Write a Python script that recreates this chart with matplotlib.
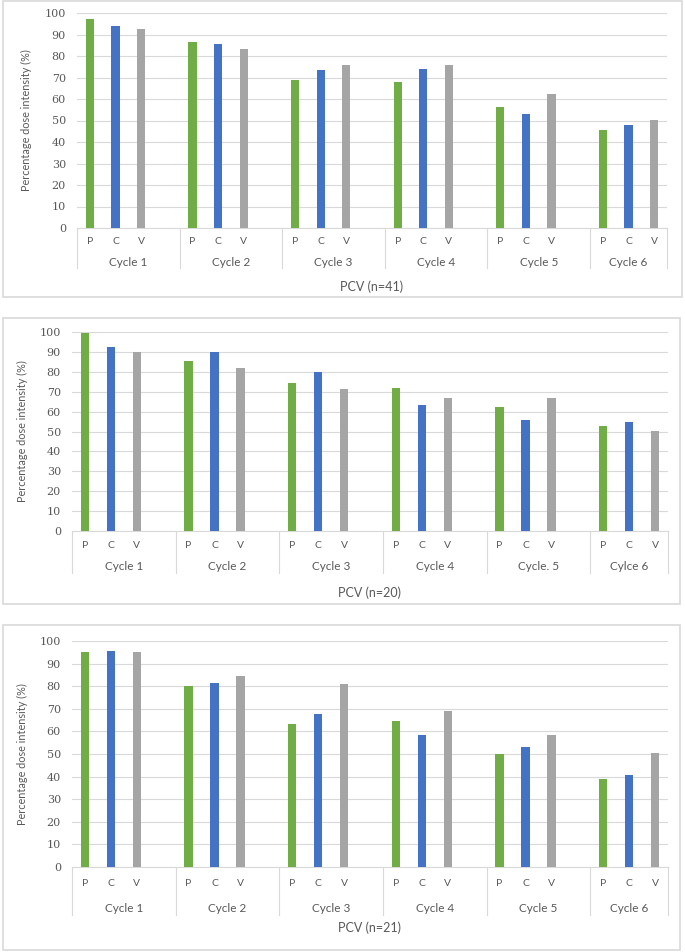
import numpy as np
import matplotlib
matplotlib.use("Agg")
import matplotlib.pyplot as plt
from matplotlib.patches import Rectangle

plt.rcParams['font.family'] = ['Lato', 'DejaVu Sans']

# data
series = ["P", "C", "V"]
colors = ["#70AD47", "#4472C4", "#A5A5A5"]

cycles_a = ["Cycle 1", "Cycle 2", "Cycle 3", "Cycle 4", "Cycle 5", "Cycle 6"]
cycles_b = ["Cycle 1", "Cycle 2", "Cycle 3", "Cycle 4", "Cycle. 5", "Cylce 6"]

p_41 = [97.2, 86.4, 68.8, 67.9, 56.1, 45.6]
c_41 = [94.1, 85.6, 73.6, 74.1, 52.9, 47.8]
v_41 = [92.7, 83.3, 76.0, 76.0, 62.3, 50.1]

p_20 = [99.3, 85.5, 74.3, 71.9, 62.5, 52.6]
c_20 = [92.3, 90.1, 80.0, 63.2, 55.6, 54.6]
v_20 = [90.1, 82.0, 71.3, 66.9, 66.6, 50.1]

p_21 = [95.1, 80.0, 63.2, 64.4, 50.1, 39.1]
c_21 = [95.6, 81.3, 67.6, 58.4, 53.1, 40.6]
v_21 = [95.1, 84.4, 80.9, 69.0, 58.4, 50.4]

titles = ["PCV (n=41)", "PCV (n=20)", "PCV (n=21)"]
yticks = np.arange(0, 101, 10)

W, H = 685, 952
fig = plt.figure(figsize=(W / 100, H / 100), dpi=100)

TXT = "#595959"
GRID = "#D9D9D9"

# pixel layout of each panel: box, axes, label rows
panels = [
    dict(box=(3, 1, 682, 297), ax=(77, 667, 13, 228), pcv=241, cyc=262, sep=268, title=287,
         ylx=32, data=(p_41, c_41, v_41), cycles=cycles_a),
    dict(box=(3, 318, 680, 604), ax=(72, 668, 332, 531), pcv=545, cyc=567, sep=573, title=593,
         ylx=28, data=(p_20, c_20, v_20), cycles=cycles_b),
    dict(box=(3, 625, 680, 950), ax=(72, 668, 641, 867), pcv=884, cyc=908, sep=915, title=928,
         ylx=28, data=(p_21, c_21, v_21), cycles=cycles_a),
]

for k, pn in enumerate(panels):
    bx0, by0, bx1, by1 = pn["box"]
    fig.patches.append(Rectangle((bx0 / W, 1 - by1 / H), (bx1 - bx0) / W, (by1 - by0) / H,
                                 transform=fig.transFigure, fill=False, edgecolor=GRID, lw=1.2))
    x0, x1, ytop, ybot = pn["ax"]
    ax = fig.add_axes([x0 / W, 1 - ybot / H, (x1 - x0) / W, (ybot - ytop) / H])
    hpx = ybot - ytop

    def ya(py):
        return (ybot - py) / hpx

    n = len(pn["cycles"])
    # each cycle: P, C, V and an empty slot (none after the last cycle)
    nslots = n * 4 - 1
    for j, vals in enumerate(pn["data"]):
        xs = np.arange(n) * 4 + j + 0.5
        ax.bar(xs, vals, width=0.32, color=colors[j], zorder=3)

    ax.set_xlim(0, nslots)
    ax.set_ylim(0, 100)
    ax.set_yticks(yticks)
    ax.set_yticklabels([str(t) for t in yticks], fontsize=8, color=TXT, family=['DejaVu Serif'])
    ax.tick_params(axis='y', length=0, pad=8)
    ax.set_xticks([])
    ax.grid(axis='y', color=GRID, lw=0.8, zorder=0)
    for s in ["top", "right", "left"]:
        ax.spines[s].set_visible(False)
    ax.spines["bottom"].set_color(GRID)

    # category labels under axis
    tr = ax.get_xaxis_transform()
    edges = [min(i * 4, nslots) for i in range(n + 1)]
    for i, cname in enumerate(pn["cycles"]):
        for j, s in enumerate(series):
            ax.text(i * 4 + j + 0.5, ya(pn["pcv"]), s, ha='center', va='center',
                    fontsize=7.5, color=TXT, transform=tr, clip_on=False)
        ax.text((edges[i] + edges[i + 1]) / 2, ya(pn["cyc"]), cname, ha='center', va='center',
                fontsize=8.5, color=TXT, transform=tr, clip_on=False)
    for e in edges:
        ax.plot([e, e], [0, ya(pn["sep"])], color=GRID, lw=0.8, transform=tr, clip_on=False)

    ax.text(0.5, ya(pn["title"]), titles[k], ha='center', va='center', fontsize=9,
            color=TXT, transform=ax.transAxes)
    ax.set_ylabel("Percentage dose intensity (%)", fontsize=7.8, color=TXT)
    ax.yaxis.set_label_coords((pn["ylx"] - x0) / (x1 - x0), 0.5)

fig.savefig("out.png", dpi=100)
